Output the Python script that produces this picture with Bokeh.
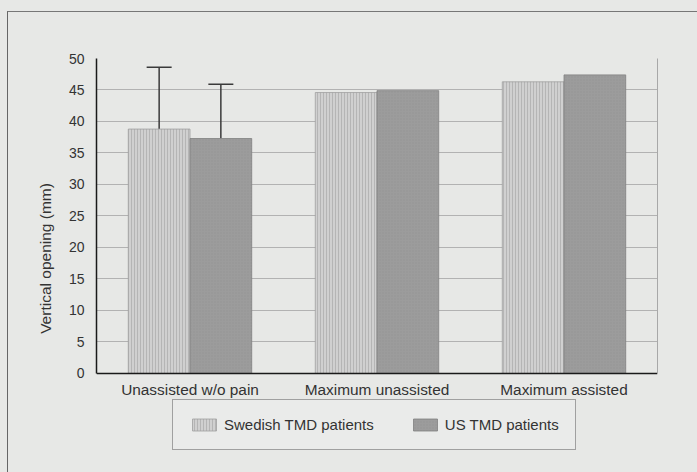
from bokeh.plotting import figure
from bokeh.models import (ColumnDataSource, FactorRange, SingleIntervalTicker, Whisker,
                          TeeHead, Legend, LegendItem, LinearAxis, FixedTicker)
from bokeh.transform import dodge
from bokeh.embed import file_html
from bokeh.resources import INLINE

categories = ["Unassisted w/o pain", "Maximum unassisted", "Maximum assisted"]
swedish = [38.8, 44.6, 46.3]
us = [37.3, 44.9, 47.4]
swedish_sd = [9.8, 0, 0]
us_sd = [8.6, 0, 0]
series_names = ["Swedish TMD patients", "US TMD patients"]

BG = "#e7e8e6"
FONT = "Liberation Sans"

src = ColumnDataSource(dict(cat=categories, swe=swedish, us=us))
err_swe = ColumnDataSource(dict(cat=categories[:1], lo=swedish[:1],
                                hi=[swedish[0] + swedish_sd[0]]))
err_us = ColumnDataSource(dict(cat=categories[:1], lo=us[:1],
                               hi=[us[0] + us_sd[0]]))

p = figure(width=697, height=472, x_range=FactorRange(*categories),
           y_range=(-13.5, 50), output_backend="svg", toolbar_location=None,
           min_border_left=96, min_border_right=40, min_border_top=58,
           min_border_bottom=14)
p.background_fill_color = BG
p.border_fill_color = BG
p.outline_line_color = None

r1 = p.vbar(x=dodge("cat", -0.165, range=p.x_range), top="swe", width=0.33,
            source=src, fill_color="#d0d0d0", line_color="#a0a0a0", line_width=0.8,
            hatch_pattern="vertical_line", hatch_color="#a9a9a9", hatch_scale=3,
            hatch_weight=1, hatch_alpha=0.7)
r2 = p.vbar(x=dodge("cat", 0.165, range=p.x_range), top="us", width=0.33,
            source=src, fill_color="#9c9c9c", line_color="#808080", line_width=0.8,
            hatch_pattern="dot", hatch_color="#8a8a8a", hatch_scale=3,
            hatch_weight=1, hatch_alpha=0.6)

for s, off in ((err_swe, -0.165), (err_us, 0.165)):
    w = Whisker(source=s, base=dodge("cat", off, range=p.x_range), upper="hi",
                lower="lo", dimension="height", line_color="#3a3a3a", line_width=1.5,
                upper_head=TeeHead(size=25, line_color="#3a3a3a", line_width=1.5),
                lower_head=None)
    p.add_layout(w)

p.xgrid.grid_line_color = None
p.ygrid.grid_line_color = "#b2b2b2"
p.ygrid.grid_line_width = 1

p.yaxis.ticker = SingleIntervalTicker(interval=5)
p.yaxis.bounds = (0, 50)
p.ygrid.bounds = (0, 50)
p.yaxis.minor_tick_line_color = None
p.yaxis.major_tick_line_color = None
p.xaxis.major_tick_line_color = None
p.xaxis.minor_tick_line_color = None
p.xaxis.fixed_location = 0
for ax in (p.xaxis, p.yaxis):
    ax.axis_line_color = "#1a1a1a"
    ax.axis_line_width = 1.5
    ax.major_label_text_font = FONT
    ax.major_label_text_color = "#333333"
p.yaxis.major_label_text_font_size = "14px"
p.yaxis.major_label_standoff = 6
p.xaxis.major_label_text_font_size = "15.4px"
p.xaxis.major_label_standoff = 2
p.yaxis.axis_label = "Vertical opening (mm)"
p.yaxis.axis_label_text_font = FONT
p.yaxis.axis_label_text_font_style = "normal"
p.yaxis.axis_label_text_font_size = "15.5px"
p.yaxis.axis_label_text_color = "#333333"
p.yaxis.axis_label_standoff = 12

right_ax = LinearAxis(bounds=(0, 50), ticker=FixedTicker(ticks=[]),
                      axis_line_color="#a8a8a8", axis_line_width=1,
                      major_tick_line_color=None, minor_tick_line_color=None,
                      major_label_standoff=0, major_tick_out=0, minor_tick_out=0)
p.add_layout(right_ax, "right")

legend = Legend(items=[LegendItem(label=series_names[0], renderers=[r1]),
                       LegendItem(label=series_names[1], renderers=[r2])],
                location=(76, 8), orientation="horizontal",
                glyph_width=30, glyph_height=15, label_standoff=5, spacing=36,
                padding=16, margin=0,
                label_text_font=FONT, label_text_font_size="15px",
                label_text_color="#333333",
                background_fill_color="#eaebea", background_fill_alpha=1,
                border_line_color="#555555", border_line_width=1)
p.add_layout(legend, "center")

html = file_html(p, INLINE)
css = ("<style>body{background:%s;}"
       "body::before{content:'';position:fixed;left:7px;top:11px;width:3000px;"
       "height:3000px;border-left:1px solid #666;border-top:1px solid #777;"
       "pointer-events:none;z-index:10;}</style>") % BG
html = html.replace("<head>", "<head>" + css, 1)
open("out.html", "w").write(html)
